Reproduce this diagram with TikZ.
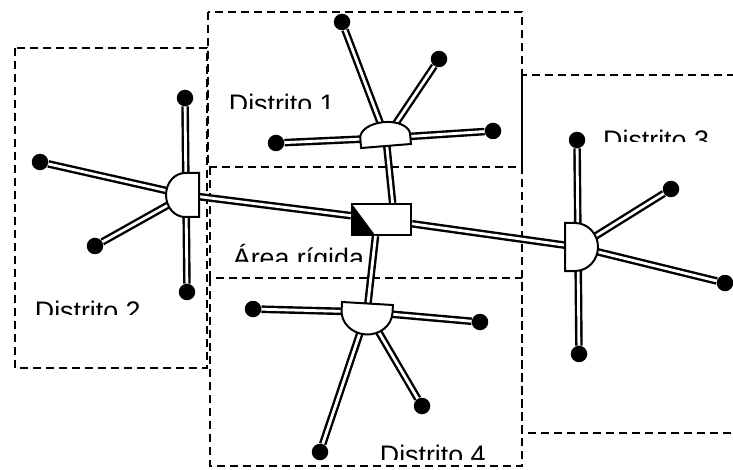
\documentclass[tikz,border=0pt]{standalone}
\usepackage{fontspec}
\setmainfont{Liberation Sans}
\tikzset{
	leaf/.style={circle,fill=black,inner sep=0pt,minimum size=16.5pt},
	pipe/.style={draw,double=white,line width=2.4pt,double distance=2.8pt},
	zone/.style={draw,line width=2pt,dash pattern=on 8pt off 5pt},
	core/.style={draw,fill=white,line width=2pt,minimum width=59pt,minimum height=31pt,inner sep=0pt,
		path picture={\fill[black] (path picture bounding box.north west) -- (path picture bounding box.south west)
			-- ([xshift=23pt]path picture bounding box.south west) -- cycle;}},
	lbl/.style={anchor=base west,inner sep=0pt,font=\fontsize{26.8}{30}\selectfont},
	pics/hub/.style n args={3}{code={
		\draw[line width=2pt,fill=white] (-#1/2,0) -- (-#1/2,#2)
			arc[start angle=180,end angle=0,x radius=#1/2,y radius=#3] -- (#1/2,0) -- cycle;
	}},
}
\begin{document}
\begin{tikzpicture}[x=1pt,y=-1pt]
	\clip (0,0) rectangle (733,470);
	\draw[zone] (15,48) rectangle (207,368);
	\draw[zone] (208,12) rectangle (522,167);
	\draw[zone] (522,75) rectangle (745,433);
	\draw[zone] (210,167) -- (210,278) -- (522,278);
	\draw[zone] (210,278) -- (210,466) -- (522,466) -- (522,278);
	\foreach \n/\x/\y/\cut/\txt in {t1/228.7/113.5/108.3/Distrito 1,t2/34.7/320.9/314/Distrito 2,
		t3/603/149.2/141.7/Distrito 3,t4/379.7/464.2/459/Distrito 4,tr/232.7/267.5/261.7/Área rígida}
	{
		\begin{scope}
			\clip (0,0) rectangle (733,\cut);
			\node[lbl] (\n) at (\x,\y) {\txt};
		\end{scope}
	}
	\coordinate (h1) at (386,138);
	\coordinate (h2) at (186,195);
	\coordinate (h3) at (578,247);
	\coordinate (h4) at (367,312);
	\node[core] (rigid) at (381.5,219.5) {};
	\foreach \n/\x/\y in {l11/342/22,l12/439/59,l13/276/143,l14/493/131,
		l21/185/98,l22/40/162,l23/95/246,l24/187/292,
		l31/577/140,l32/671/189,l33/725/283,l34/579/354,
		l41/253/309,l42/480/322,l43/320/452,l44/422/406}
	\node[leaf] (\n) at (\x,\y) {};
	\foreach \l/\h in {l11/h1,l12/h1,l13/h1,l14/h1,l21/h2,l22/h2,l23/h2,l24/h2,
		l31/h3,l32/h3,l33/h3,l34/h3,l41/h4,l42/h4,l43/h4,l44/h4}
	\draw[pipe] (\l) -- (\h);
	\draw[pipe] (h2) -- (rigid);
	\draw[pipe] (rigid) -- (h3);
	\draw[pipe] (rigid.56) -- (h1);
	\draw[pipe] (rigid.250) -- (h4);
	\pic[rotate=184.6] at (386,146) {hub={50}{10}{14}};
	\pic[rotate=-90] at (199,195) {hub={44}{14}{19}};
	\pic[rotate=90] at (565,247) {hub={48}{10}{23}};
	\pic[rotate=-3.4] at (367.5,303.5) {hub={51}{8}{23}};
\end{tikzpicture}
\end{document}
